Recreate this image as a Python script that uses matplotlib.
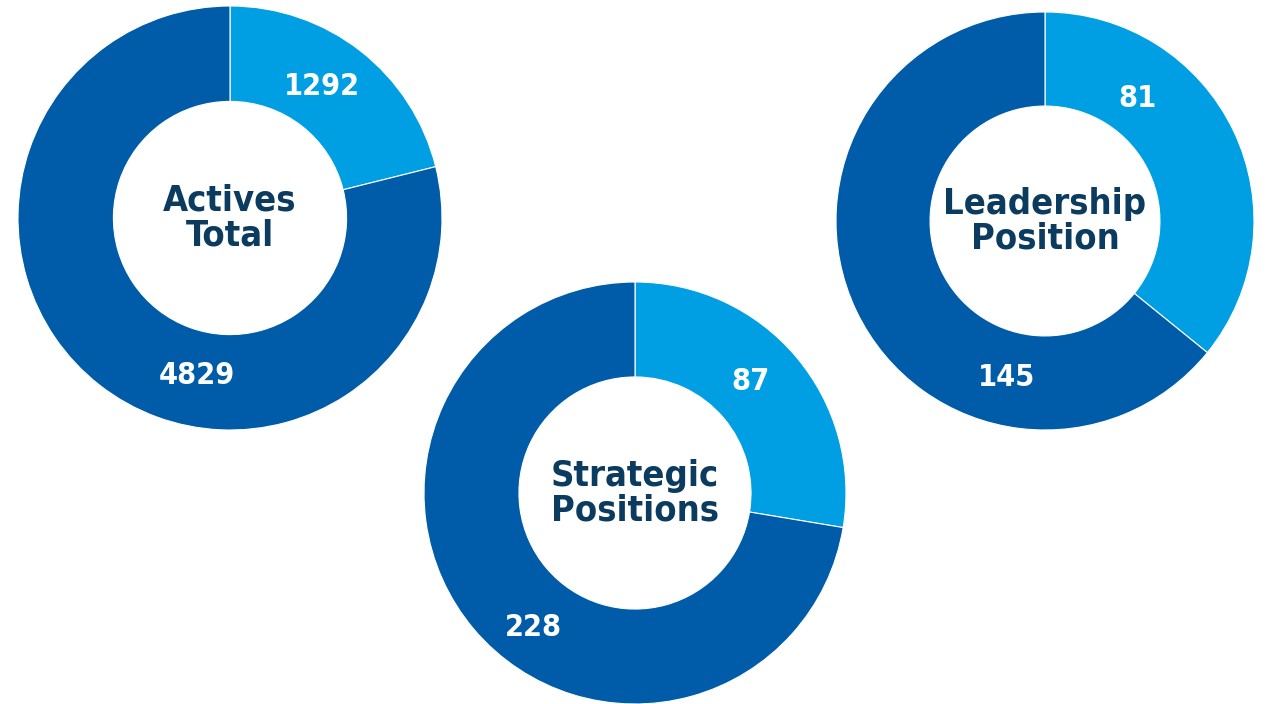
import numpy as np
import matplotlib
matplotlib.use("Agg")
import matplotlib.pyplot as plt

# data
titles = ["Actives\nTotal", "Strategic\nPositions", "Leadership\nPosition"]
light_vals = [1292, 87, 81]
dark_vals = [4829, 228, 145]

# layout (pixel space, y up)
W, H = 1271, 704
centers = [(230, 486), (635, 211), (1045, 483)]
radii = [212, 211, 209]
hole = 0.55
# label placement: (angle from 12 o'clock clockwise, distance) for light / dark
light_pos = [(35, 160), (46, 160), (37, 154)]
dark_pos = [(192, 161), (217, 169), (194, 161)]

LIGHT = "#009FE3"
DARK = "#005CA9"
NAVY = "#0B3B5E"
FONT = dict(family="DejaVu Sans", fontstretch="condensed", fontweight="bold")

fig = plt.figure(figsize=(W / 100, H / 100), dpi=100)
ax = fig.add_axes([0, 0, 1, 1])

for i in range(3):
    cx, cy = centers[i]
    r = radii[i]
    ax.pie([light_vals[i], dark_vals[i]], colors=[LIGHT, DARK], startangle=90,
           counterclock=False, center=(cx, cy), radius=r, frame=True,
           wedgeprops=dict(width=r * (1 - hole), edgecolor="white", linewidth=0.8))
    ax.text(cx, cy, titles[i], ha="center", va="center", color=NAVY,
            fontsize=26, linespacing=1.02, **FONT)
    for val, (ang, d) in [(light_vals[i], light_pos[i]), (dark_vals[i], dark_pos[i])]:
        a = np.deg2rad(ang)
        ax.text(cx + d * np.sin(a), cy + d * np.cos(a), str(val), ha="center",
                va="center", color="white", fontsize=22, **FONT)

ax.set_xlim(0, W)
ax.set_ylim(0, H)
ax.set_aspect("equal")
ax.axis("off")
fig.savefig("out.png", dpi=100)
